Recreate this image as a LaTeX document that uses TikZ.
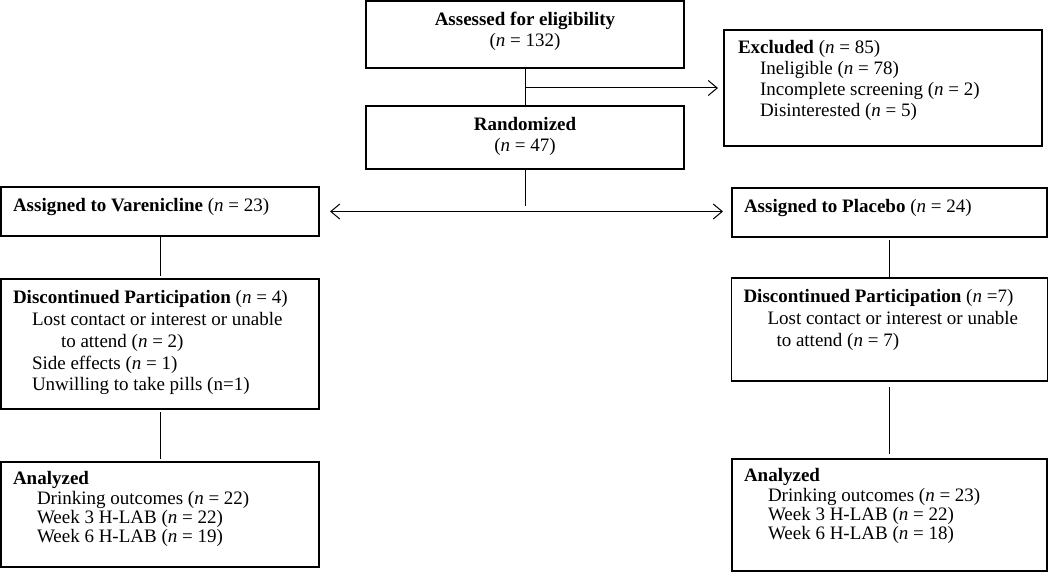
\documentclass[tikz,border=0pt]{standalone}
\usepackage{fontspec}
\setmainfont{Liberation Serif}
\usetikzlibrary{positioning}
\usetikzlibrary{arrows.meta}

\newcommand{\cellbody}[3]{\parbox[c][#2][t]{#1}{\strut#3}}

\begin{document}
\begin{tikzpicture}[x=1pt, y=1pt, outer sep=0, line width=1pt, >={Straight Barb[length=9pt,width=15pt]},
    box/.style={draw, rectangle, line width=1.4pt, inner xsep=12pt, inner ysep=9.5pt, font=\fontsize{19}{21}\selectfont}]
        \useasboundingbox (0,0) rectangle (1050,-572);
        % screening boxes
        \node [box] (assessed) at (525,-34.5) {\cellbody{294pt}{48pt}{\centering\textbf{Assessed for eligibility}\\(\textit{n} = 132)}};
        \node [box, below = 38pt of assessed] (randomized) {\cellbody{294pt}{44pt}{\centering\textbf{Randomized}\\(\textit{n} = 47)}};
        \node [box, inner xsep=14pt, font=\fontsize{19}{20.7}\selectfont, below right = 29pt and 40pt of assessed.north east] (excluded) {\cellbody{290pt}{97pt}{\textbf{Excluded} (\textit{n} = 85)\\
            \hspace*{22pt}Ineligible (\textit{n} = 78)\\
            \hspace*{22pt}Incomplete screening (\textit{n} = 2)\\
            \hspace*{22pt}Disinterested (\textit{n} = 5)}};
        \draw (assessed) -- (randomized);
        \draw[->, shorten >=6pt] (assessed.south |- excluded.west) -- (excluded.west);
        % varenicline arm
        \node [box, below left = 18pt and 47pt of randomized.south west] (varen) {\cellbody{294pt}{30pt}{\textbf{Assigned to Varenicline} (\textit{n} = 23)}};
        \node [box, font=\fontsize{19}{21.8}\selectfont, below = 43pt of varen] (discvaren) {\cellbody{294pt}{111pt}{\textbf{Discontinued Participation} (\textit{n} = 4)\\
            \hspace*{19pt}Lost contact or interest or unable\\
            \hspace*{48pt}to attend (\textit{n} = 2)\\
            \hspace*{19pt}Side effects (\textit{n} = 1)\\
            \hspace*{19pt}Unwilling to take pills (n=1)}};
        \node [box, font=\fontsize{19}{19.2}\selectfont, below = 53pt of discvaren] (anavaren) {\cellbody{294pt}{86pt}{\textbf{Analyzed}\\
            \hspace*{24pt}Drinking outcomes (\textit{n} = 22)\\
            \hspace*{24pt}Week 3 H-LAB (\textit{n} = 22)\\
            \hspace*{24pt}Week 6 H-LAB (\textit{n} = 19)}};
        % placebo arm
        \node [box, below right = 19pt and 48pt of randomized.south east] (placebo) {\cellbody{291pt}{30pt}{\textbf{Assigned to Placebo} (\textit{n} = 24)}};
        \node [box, font=\fontsize{19}{21.8}\selectfont, below = 41pt of placebo] (discplacebo) {\cellbody{292pt}{84pt}{\textbf{Discontinued Participation} (\textit{n} =7)\\
            \hspace*{24pt}Lost contact or interest or unable\\
            \hspace*{33pt}to attend (\textit{n} = 7)}};
        \node [box, font=\fontsize{19}{19.2}\selectfont, below = 78pt of discplacebo] (anaplacebo) {\cellbody{291pt}{93pt}{\textbf{Analyzed}\\
            \hspace*{24pt}Drinking outcomes (\textit{n} = 23)\\
            \hspace*{24pt}Week 3 H-LAB (\textit{n} = 22)\\
            \hspace*{24pt}Week 6 H-LAB (\textit{n} = 18)}};
        % allocation
        \coordinate (split) at (randomized.south |- varen.east);
        \draw[shorten >=5pt] (randomized) -- (split);
        \draw[<->, shorten <=11pt, shorten >=9pt] (varen.east) -- (varen.east -| placebo.west);
        % follow-up links
        \draw[shorten <=1pt, shorten >=3pt] (varen) -- (discvaren);
        \draw[shorten <=3pt, shorten >=3pt] (discvaren) -- (anavaren);
        \draw[shorten <=3pt] (placebo) -- (discplacebo);
        \draw[shorten <=6pt, shorten >=5pt] (discplacebo) -- (anaplacebo);
    \end{tikzpicture}
\end{document}
